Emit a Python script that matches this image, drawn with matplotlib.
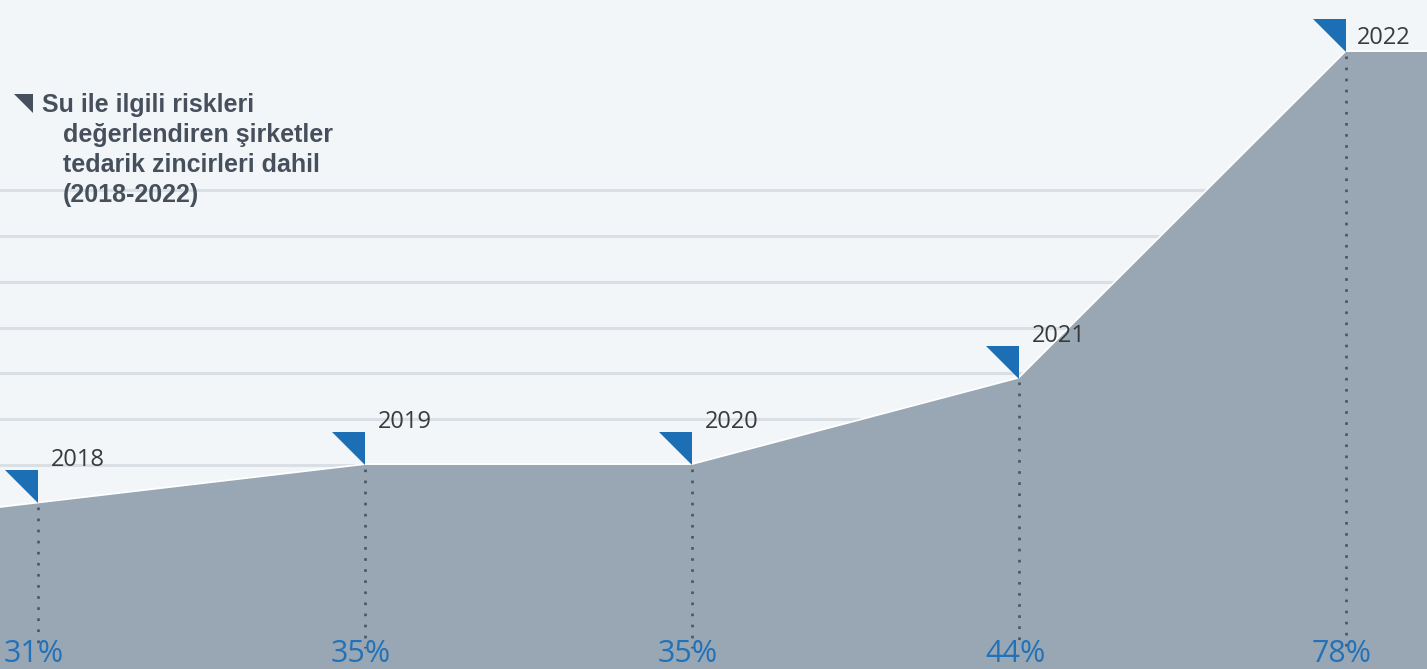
import matplotlib
matplotlib.use('Agg')
import matplotlib.pyplot as plt
import numpy as np
from matplotlib.path import Path
from matplotlib.markers import MarkerStyle

# ---- data ----
years = ['2018', '2019', '2020', '2021', '2022']
values = [31, 35, 35, 44, 78]
pct_labels = ['31%', '35%', '35%', '44%', '78%']
title_lines = ['Su ile ilgili riskleri', 'değerlendiren şirketler',
               'tedarik zincirleri dahil', '(2018-2022)']

# ---- style ----
BG = '#f3f6f8'
AREA = '#98a7b3'
GRID = '#d9dfe4'
BLUE = '#1c6fb4'
PCT = '#2272b9'
DOT = '#4b5561'
TXT = '#3a3a3a'
TITLE = '#46505d'

W, H, DPI = 1427, 669, 100
fig = plt.figure(figsize=(W / DPI, H / DPI), dpi=DPI)
fig.patch.set_facecolor(BG)
ax = fig.add_axes([0, 0, 1, 1])
ax.set_facecolor(BG)
ax.axis('off')

x = np.arange(len(years))
xlim = (-0.1162, 4.2477)
ylim = (13.76, 83.41)
ax.set_xlim(*xlim)
ax.set_ylim(*ylim)

# decorative horizontal rules
for g in 35 + 4.77 * np.arange(7):
    ax.axhline(g, color=GRID, lw=2.2, zorder=1)

# area extended to the edges
x_ext = np.concatenate([[xlim[0]], x, [xlim[1]]])
v0, v1 = values[0], values[1]
left_val = v0 + (v1 - v0) * (xlim[0] - x[0]) / (x[1] - x[0])
y_ext = np.concatenate([[left_val], values, [values[-1]]])
ax.plot(x_ext, y_ext, color='white', lw=2.5, zorder=2)
ax.fill_between(x_ext, ylim[0], y_ext, color=AREA, lw=0, zorder=3)

# dotted drop lines
dot_bottom = ylim[0] + 2.2
for xi, vi in zip(x, values):
    ax.plot([xi, xi], [vi - 0.4, dot_bottom], color=DOT, lw=1.9,
            linestyle=(0, (1, 3.2)), dash_capstyle='butt', zorder=4)

# triangle markers (right angle at top-right, tip at the data point)
tri = Path([(-1, 1), (0, 1), (0, 0), (-1, 1)],
           [Path.MOVETO, Path.LINETO, Path.LINETO, Path.CLOSEPOLY])
tri_marker = MarkerStyle(tri)
ax.plot(x, values, linestyle='none', marker=tri_marker, markersize=47.5,
        markerfacecolor=BLUE, markeredgewidth=0, zorder=6)

# year labels
for i, (xi, vi, yr) in enumerate(zip(x, values, years)):
    off = (11, 14) if i == len(years) - 1 else (13, 43)
    ax.annotate(yr, xy=(xi, vi), xytext=off, textcoords='offset pixels',
                ha='left', va='center', fontsize=17, color=TXT,
                family='Open Sans', zorder=7)

# percentage labels
for xi, p in zip(x, pct_labels):
    ax.annotate(p, xy=(xi, ylim[0]), xytext=(-4, 7), textcoords='offset pixels',
                ha='center', va='baseline', fontsize=22, color=PCT,
                family='Open Sans', zorder=7)

# title with small triangle
ax.plot([33 / W], [1 - 113 / H], transform=ax.transAxes, linestyle='none',
        marker=tri_marker, markersize=27, markerfacecolor=TITLE,
        markeredgewidth=0, zorder=8)
for i, line in enumerate(title_lines):
    xpx = 42 if i == 0 else 63
    ypx = 112 + 30 * i
    fig.text(xpx / W, 1 - ypx / H, line, ha='left', va='baseline',
             fontsize=18, fontweight='bold', color=TITLE,
             family='Liberation Sans', zorder=9)

fig.savefig('out.png', dpi=DPI, facecolor=BG)
